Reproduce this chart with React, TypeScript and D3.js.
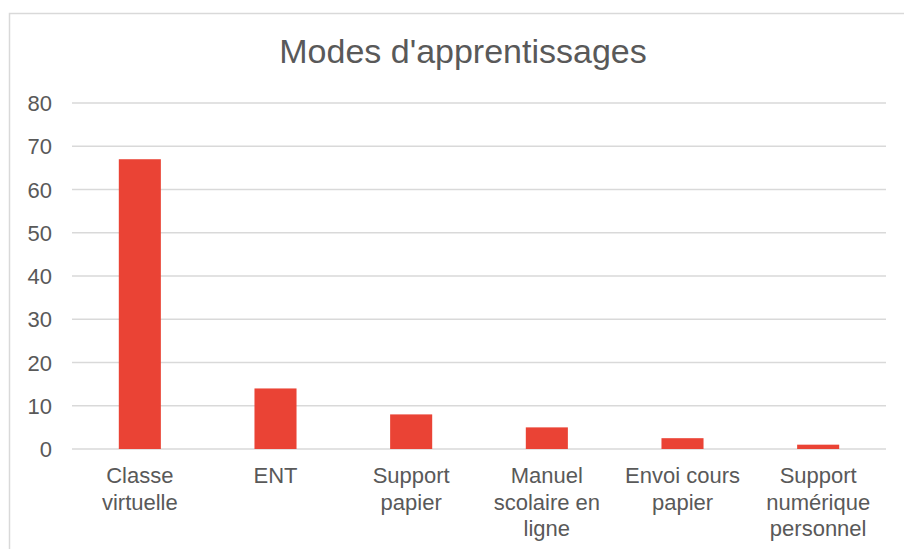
import React, { useEffect, useRef } from "react";
import * as d3 from "d3";

const categories = [
  "Classe virtuelle",
  "ENT",
  "Support papier",
  "Manuel scolaire en ligne",
  "Envoi cours papier",
  "Support numérique personnel",
];
const values = [67, 14, 8, 5, 2.5, 1];
const yTicks = [0, 10, 20, 30, 40, 50, 60, 70, 80];
const title = "Modes d'apprentissages";

const W = 904;
const H = 549;
const FONT = "'Liberation Sans', Arial, sans-serif";
const TEXT = "#595959";
const GRID = "#d9d9d9";
const BAR = "#ea4335";

function wrap(sel: d3.Selection<SVGTextElement, string, any, any>, maxW: number) {
  sel.each(function (d) {
    const text = d3.select(this);
    const words = d.split(/\s+/);
    text.text(null);
    let line: string[] = [];
    let tspan = text.append("tspan").attr("x", 0).attr("dy", 0);
    for (const w of words) {
      line.push(w);
      tspan.text(line.join(" "));
      if ((tspan.node() as SVGTSpanElement).getComputedTextLength() > maxW && line.length > 1) {
        line.pop();
        tspan.text(line.join(" "));
        line = [w];
        tspan = text.append("tspan").attr("x", 0).attr("dy", 26.5).text(w);
      }
    }
  });
}

export default function App() {
  const ref = useRef<SVGSVGElement>(null);

  useEffect(() => {
    const svg = d3.select(ref.current);
    svg.selectAll("*").remove();

    const margin = { left: 72, right: 18 };
    const x = d3
      .scaleBand<string>()
      .domain(categories)
      .range([margin.left, W - margin.right])
      .padding(0);
    const y = d3.scaleLinear().domain([0, 80]).range([449, 103]);
    const barW = x.bandwidth() * 0.31;

    // chart frame (only left and top edges visible)
    svg
      .append("rect")
      .attr("x", 9.5)
      .attr("y", 13.5)
      .attr("width", W + 20)
      .attr("height", H + 20)
      .attr("fill", "#fff")
      .attr("stroke", GRID)
      .attr("stroke-width", 1.5);

    svg
      .append("text")
      .attr("x", 463)
      .attr("y", 63)
      .attr("text-anchor", "middle")
      .attr("font-family", FONT)
      .attr("font-size", 34)
      .attr("fill", TEXT)
      .text(title);

    const g = svg.append("g");

    g.selectAll("line.grid")
      .data(yTicks)
      .join("line")
      .attr("class", "grid")
      .attr("x1", margin.left)
      .attr("x2", W - margin.right)
      .attr("y1", (d) => y(d))
      .attr("y2", (d) => y(d))
      .attr("stroke", GRID)
      .attr("stroke-width", 1.5);

    g.selectAll("text.ytick")
      .data(yTicks)
      .join("text")
      .attr("class", "ytick")
      .attr("x", 52)
      .attr("y", (d) => y(d) + 8)
      .attr("text-anchor", "end")
      .attr("font-family", FONT)
      .attr("font-size", 22)
      .attr("fill", TEXT)
      .text((d) => d);

    g.selectAll("rect.bar")
      .data(values)
      .join("rect")
      .attr("class", "bar")
      .attr("x", (_, i) => x(categories[i])! + x.bandwidth() / 2 - barW / 2)
      .attr("width", barW)
      .attr("y", (d) => y(d))
      .attr("height", (d) => y(0) - y(d))
      .attr("fill", BAR);

    const labels = g
      .selectAll<SVGTextElement, string>("text.xlab")
      .data(categories)
      .join("text")
      .attr("class", "xlab")
      .attr("transform", (d) => `translate(${x(d)! + x.bandwidth() / 2},483)`)
      .attr("text-anchor", "middle")
      .attr("font-family", FONT)
      .attr("font-size", 22)
      .attr("fill", TEXT);
    wrap(labels, 128);
  }, []);

  return (
    <div style={{ position: "fixed", left: 0, top: 0, width: W, height: H, overflow: "hidden", background: "#fff" }}>
      <svg ref={ref} width={W} height={H} style={{ display: "block" }} />
    </div>
  );
}
